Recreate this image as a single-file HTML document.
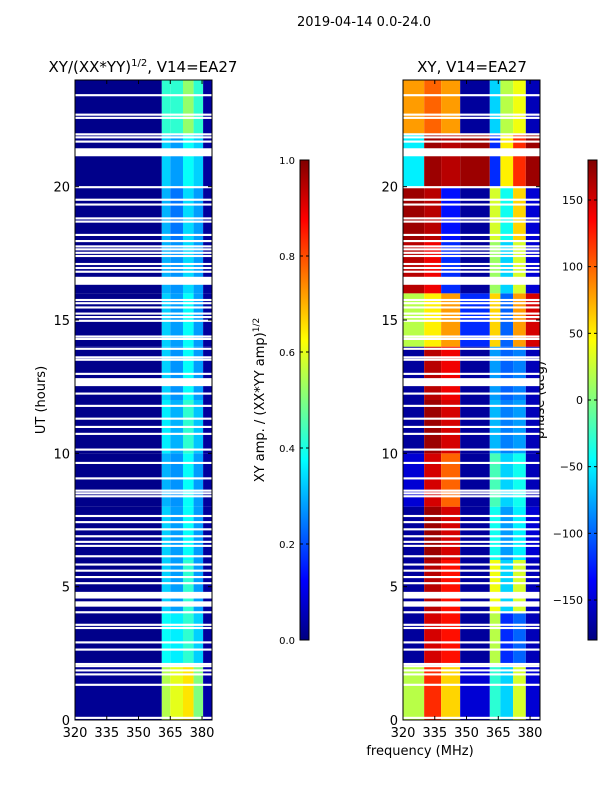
<!DOCTYPE html>
<html><head><meta charset="utf-8"><style>
body{margin:0;background:#fff;}
svg text{font-family:"DejaVu Sans","Liberation Sans",sans-serif;fill:#000;}
</style></head><body>
<svg id="fig" width="600" height="800" xmlns="http://www.w3.org/2000/svg">
<text x="364" y="26" font-size="13" text-anchor="middle">2019-04-14 0.0-24.0</text>
<text x="143" y="72" font-size="15" text-anchor="middle">XY/(XX*YY)<tspan font-size="10" dy="-6">1/2</tspan><tspan dy="6">, V14=EA27</tspan></text>
<text x="472" y="72" font-size="15" text-anchor="middle">XY, V14=EA27</text>
<text transform="translate(45,400) rotate(-90)" font-size="13" text-anchor="middle">UT (hours)</text>
<text x="420" y="755" font-size="13" text-anchor="middle">frequency (MHz)</text>
<text transform="translate(264,400) rotate(-90)" font-size="13" text-anchor="middle">XY amp. / (XX*YY amp)<tspan font-size="9" dy="-5">1/2</tspan></text>
<text transform="translate(544,400) rotate(-90)" font-size="13" text-anchor="middle">phase (deg)</text>
<g id="layer"></g>
</svg>
<script>
// ---- data ----
const timeBins=[0,2,4,6,8,10,12,14,16,18,20,22,24];
const ampFreqEdges=[320,361,365,371,376,380.5,384.7];
const ampValues=[
[0.02,0.55,0.6,0.65,0.5,0.04],
[0.01,0.38,0.36,0.42,0.33,0.03],
[0.01,0.33,0.28,0.42,0.28,0.03],
[0.01,0.33,0.28,0.38,0.28,0.03],
[0.01,0.3,0.27,0.38,0.28,0.03],
[0.01,0.36,0.3,0.42,0.32,0.03],
[0.01,0.33,0.27,0.38,0.28,0.03],
[0.01,0.33,0.28,0.38,0.28,0.03],
[0.01,0.3,0.27,0.34,0.28,0.03],
[0.01,0.3,0.24,0.34,0.28,0.03],
[0.01,0.33,0.28,0.38,0.33,0.03],
[0.01,0.42,0.42,0.52,0.42,0.03]];
const phaseFreqEdges=[320,330,338,347,361,366,372,378,384.7];
const phaseValues=[
[20,120,60,-150,-30,-60,30,-150],
[-170,150,130,-170,20,-120,-100,-160],
[-170,160,130,-170,40,-60,30,-160],
[-170,170,150,-170,-40,-80,-50,-150],
[-150,150,100,-170,-20,-60,-40,-160],
[-170,170,150,-170,-70,-90,-80,-160],
[-170,160,140,-170,-80,-100,-90,-160],
[20,50,80,-120,60,-100,80,150],
[160,140,-120,-170,10,-60,30,-150],
[170,160,-130,-170,30,-40,60,-150],
[-50,170,160,170,-120,50,120,170],
[80,100,80,-170,-60,20,40,-160]];
const flagTimes=[23.43,22.70,22.58,21.96,21.85,21.69,21.29,19.98,19.51,19.33,18.81,18.69,18.19,17.96,17.76,17.65,17.52,17.40,17.10,16.95,16.81,16.47,15.75,15.63,15.47,15.24,15.11,14.97,14.38,14.29,13.92,13.60,13.51,12.98,12.67,12.24,11.78,11.30,10.99,10.73,10.14,9.64,9.06,8.60,8.50,8.39,7.65,7.42,7.15,6.89,6.68,6.53,6.14,5.83,5.60,5.36,5.13,4.68,4.35,4.04,3.57,3.45,2.91,2.64,2.10,2.02,1.86,1.71,1.32,0.08];
const flagWidths=[0.08,0.08,0.08,0.08,0.08,0.08,0.3,0.08,0.08,0.08,0.08,0.08,0.08,0.08,0.08,0.08,0.08,0.08,0.08,0.08,0.08,0.3,0.08,0.08,0.08,0.08,0.08,0.08,0.08,0.08,0.08,0.08,0.08,0.08,0.3,0.08,0.08,0.08,0.08,0.08,0.08,0.08,0.08,0.08,0.08,0.08,0.08,0.08,0.08,0.08,0.08,0.08,0.08,0.08,0.08,0.08,0.08,0.25,0.2,0.08,0.08,0.08,0.08,0.08,0.08,0.08,0.08,0.08,0.08,0.08];
const yTicks=[0,5,10,15,20];
const xTicks=[320,335,350,365,380];
const ampTicks=[0.0,0.2,0.4,0.6,0.8,1.0];
const phaseTicks=[-150,-100,-50,0,50,100,150];
// ---- drawing ----
const NS="http://www.w3.org/2000/svg";
const layer=document.getElementById('layer');
function mk(tag,attrs,parent){const e=document.createElementNS(NS,tag);for(const k in attrs)e.setAttribute(k,attrs[k]);(parent||layer).appendChild(e);return e;}
function jet(v){v=Math.max(0,Math.min(1,v));
 const r=Math.max(0,Math.min(1,1.5-Math.abs(4*v-3))),g=Math.max(0,Math.min(1,1.5-Math.abs(4*v-2))),b=Math.max(0,Math.min(1,1.5-Math.abs(4*v-1)));
 return `rgb(${Math.round(r*255)},${Math.round(g*255)},${Math.round(b*255)})`;}
const Y0=720,Y1=80,T0=0,T1=24;
function yS(t){return Y0-(t-T0)/(T1-T0)*(Y0-Y1);}
function panel(px0,name,edges,vals,norm){
 const f0=320,f1=384.7,w=137;
 const xS=f=>px0+(f-f0)/(f1-f0)*w;
 const g=mk('g',{});
 
 
 for(let r=0;r<vals.length;r++)for(let c=0;c<vals[r].length;c++){
  const x=xS(edges[c]),x2=xS(edges[c+1]),y=yS(timeBins[r+1]),y2=yS(timeBins[r]);
  const cell=mk('rect',{x:x,y:y,width:x2-x,height:y2-y,fill:jet(norm(vals[r][c]))},g);
  
  
 }
 for(let i=0;i<flagTimes.length;i++){
  const fl=mk('rect',{x:px0,y:yS(flagTimes[i]+flagWidths[i]/2),width:w,height:Math.max(1.5,flagWidths[i]/24*640),fill:'#fff'},g);
  
  
 }
 const fr=mk('rect',{x:px0,y:Y1,width:w,height:Y0-Y1,fill:'none',stroke:'#000','stroke-width':1});
 
 
 yTicks.forEach(t=>{mk('line',{x1:px0,x2:px0+4,y1:yS(t),y2:yS(t),stroke:'#000'});mk('line',{x1:px0+w,x2:px0+w-4,y1:yS(t),y2:yS(t),stroke:'#000'});
  const tx=mk('text',{x:px0-5,y:yS(t)+5,'font-size':13,'text-anchor':'end'});tx.textContent=t;
  });
 xTicks.forEach(t=>{mk('line',{x1:xS(t),x2:xS(t),y1:Y0,y2:Y0-4,stroke:'#000'});mk('line',{x1:xS(t),x2:xS(t),y1:Y1,y2:Y1+4,stroke:'#000'});
  const tx=mk('text',{x:xS(t),y:Y0+17,'font-size':13,'text-anchor':'middle'});tx.textContent=t;
  });
}
panel(75,'amplitude',ampFreqEdges,ampValues,v=>v);
panel(403,'phase',phaseFreqEdges,phaseValues,v=>(v+180)/360);
function cbar(x,name,ticks,lo,hi,fmt){
 const id='grad'+name;
 const defs=mk('defs',{});const lg=mk('linearGradient',{id:id,x1:0,y1:1,x2:0,y2:0},defs);
 [0,0.11,0.125,0.34,0.35,0.375,0.5,0.625,0.64,0.65,0.66,0.875,0.89,1].forEach(o=>mk('stop',{offset:o,'stop-color':jet(o)},lg));
 const cb=mk('rect',{x:x,y:160,width:9,height:480,fill:`url(#${id})`,stroke:'#000','stroke-width':1});
 
 
 ticks.forEach(t=>{const y=640-(t-lo)/(hi-lo)*480;
  mk('line',{x1:x,x2:x+3,y1:y,y2:y,stroke:'#000'});mk('line',{x1:x+9,x2:x+6,y1:y,y2:y,stroke:'#000'});
  const tx=mk('text',{x:x-5,y:y+4,'font-size':name==='amp'?10:11,'text-anchor':'end'});tx.textContent=fmt(t);
  });
}
cbar(300,'amp',ampTicks,0,1,t=>t.toFixed(1));
cbar(588,'phase',phaseTicks,-180,180,t=>t<0?'\u2212'+(-t):''+t);
</script>
</body></html>
